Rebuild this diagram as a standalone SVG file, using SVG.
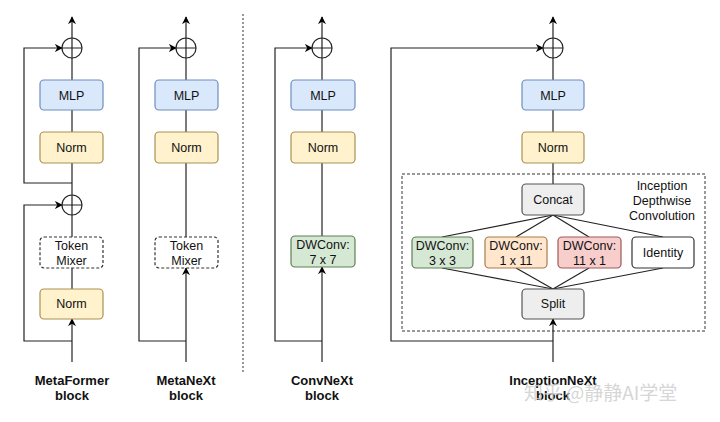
<svg xmlns="http://www.w3.org/2000/svg" width="720" height="422" viewBox="0 0 720 422">
<defs>
<marker id="ah" viewBox="0 0 10 10" refX="9" refY="5" markerWidth="8" markerHeight="8" markerUnits="userSpaceOnUse" orient="auto">
<path d="M0,0 L10,5 L0,10 L3,5 Z" fill="#000"/>
</marker>
<style>
text{font-family:"Liberation Sans",Arial,sans-serif;font-size:12.5px;fill:#111;text-anchor:middle}
.lbl{font-weight:bold;font-size:13px}
.ln{fill:none;stroke:#222;stroke-width:1.2}
.box{stroke-width:1.2}
.mlp{fill:#dae8fc;stroke:#6c8ebf}
.norm{fill:#fff2cc;stroke:#a89152}
.green{fill:#d5e8d4;stroke:#5f7f52}
.orange{fill:#ffe6cc;stroke:#a67c4a}
.red{fill:#f8cecc;stroke:#9b5a58}
.gray{fill:#eeeeee;stroke:#555}
.white{fill:#fff;stroke:#333}
.dash{fill:#fff;stroke:#333;stroke-dasharray:3 2}
.plus{fill:none;stroke:#222;stroke-width:1.2}
.wm{font-family:"Noto Sans CJK SC","Liberation Sans",sans-serif;font-size:19px;fill:#d0d0d0;text-anchor:start;opacity:0.85}
</style>
</defs>
<rect width="720" height="422" fill="#fff"/>

<g id="connectors">
<!-- MetaFormer -->
<line class="ln" x1="72" y1="38" x2="72" y2="17" marker-end="url(#ah)"/>
<line class="ln" x1="72" y1="58" x2="72" y2="80"/>
<line class="ln" x1="72" y1="110" x2="72" y2="132"/>
<line class="ln" x1="72" y1="163" x2="72" y2="195"/>
<polyline class="ln" points="72,183 24,183 24,48 62,48" marker-end="url(#ah)"/>
<line class="ln" x1="72" y1="215" x2="72" y2="237"/>
<line class="ln" x1="72" y1="268" x2="72" y2="289"/>
<line class="ln" x1="72" y1="362" x2="72" y2="319" marker-end="url(#ah)"/>
<polyline class="ln" points="72,341 24,341 24,205 62,205" marker-end="url(#ah)"/>
<!-- MetaNeXt -->
<line class="ln" x1="186" y1="38" x2="186" y2="17" marker-end="url(#ah)"/>
<line class="ln" x1="186" y1="58" x2="186" y2="80"/>
<line class="ln" x1="186" y1="110" x2="186" y2="132"/>
<line class="ln" x1="186" y1="163" x2="186" y2="237"/>
<line class="ln" x1="186" y1="362" x2="186" y2="268" marker-end="url(#ah)"/>
<polyline class="ln" points="186,341 139,341 139,48 176,48" marker-end="url(#ah)"/>
<!-- separator -->
<line x1="243" y1="14" x2="243" y2="372" stroke="#333" stroke-width="1" stroke-dasharray="2 2"/>
<!-- ConvNeXt -->
<line class="ln" x1="322" y1="38" x2="322" y2="17" marker-end="url(#ah)"/>
<line class="ln" x1="322" y1="58" x2="322" y2="80"/>
<line class="ln" x1="322" y1="110" x2="322" y2="132"/>
<line class="ln" x1="322" y1="163" x2="322" y2="236"/>
<line class="ln" x1="322" y1="362" x2="322" y2="267" marker-end="url(#ah)"/>
<polyline class="ln" points="322,341 275,341 275,48 312,48" marker-end="url(#ah)"/>
<!-- InceptionNeXt -->
<line class="ln" x1="553" y1="38" x2="553" y2="17" marker-end="url(#ah)"/>
<line class="ln" x1="553" y1="58" x2="553" y2="80"/>
<line class="ln" x1="553" y1="110" x2="553" y2="132"/>
<line class="ln" x1="553" y1="163" x2="553" y2="184"/>
<line class="ln" x1="553" y1="362" x2="553" y2="319" marker-end="url(#ah)"/>
<polyline class="ln" points="553,341 391,341 391,48 543,48" marker-end="url(#ah)"/>
<line class="ln" x1="553" y1="215" x2="442" y2="237"/>
<line class="ln" x1="553" y1="215" x2="516" y2="237"/>
<line class="ln" x1="553" y1="215" x2="589" y2="237"/>
<line class="ln" x1="553" y1="215" x2="663" y2="237"/>
<line class="ln" x1="442" y1="268" x2="553" y2="289"/>
<line class="ln" x1="516" y1="268" x2="553" y2="289"/>
<line class="ln" x1="589" y1="268" x2="553" y2="289"/>
<line class="ln" x1="663" y1="268" x2="553" y2="289"/>
</g>

<g id="plus-metaformer-1"><circle class="plus" cx="72" cy="48" r="10"/><path class="plus" d="M62,48H82M72,38V58"/></g>
<g id="plus-metaformer-2"><circle class="plus" cx="72" cy="205" r="10"/><path class="plus" d="M62,205H82M72,195V215"/></g>
<g id="plus-metanext"><circle class="plus" cx="186" cy="48" r="10"/><path class="plus" d="M176,48H196M186,38V58"/></g>
<g id="plus-convnext"><circle class="plus" cx="322" cy="48" r="10"/><path class="plus" d="M312,48H332M322,38V58"/></g>
<g id="plus-inceptionnext"><circle class="plus" cx="553" cy="48" r="10"/><path class="plus" d="M543,48H563M553,38V58"/></g>

<g id="mf-mlp"><rect class="box mlp" x="40" y="80" width="63" height="30" rx="4"/><text x="71.5" y="100">MLP</text></g>
<g id="mf-norm1"><rect class="box norm" x="40" y="132" width="63" height="31" rx="4"/><text x="71.5" y="152">Norm</text></g>
<g id="mf-mixer"><rect class="box dash" x="40" y="237" width="63" height="31" rx="4"/><text x="71.5" y="250">Token</text><text x="71.5" y="265">Mixer</text></g>
<g id="mf-norm2"><rect class="box norm" x="40" y="289" width="63" height="30" rx="4"/><text x="71.5" y="308">Norm</text></g>
<g id="mf-label"><text class="lbl" x="72" y="385">MetaFormer</text><text class="lbl" x="72" y="400">block</text></g>

<g id="mn-mlp"><rect class="box mlp" x="155" y="80" width="63" height="30" rx="4"/><text x="186.5" y="100">MLP</text></g>
<g id="mn-norm"><rect class="box norm" x="155" y="132" width="63" height="31" rx="4"/><text x="186.5" y="152">Norm</text></g>
<g id="mn-mixer"><rect class="box dash" x="155" y="237" width="63" height="31" rx="4"/><text x="186.5" y="250">Token</text><text x="186.5" y="265">Mixer</text></g>
<g id="mn-label"><text class="lbl" x="186" y="385">MetaNeXt</text><text class="lbl" x="186" y="400">block</text></g>

<g id="cn-mlp"><rect class="box mlp" x="291" y="80" width="64" height="30" rx="4"/><text x="323" y="100">MLP</text></g>
<g id="cn-norm"><rect class="box norm" x="291" y="132" width="64" height="31" rx="4"/><text x="323" y="152">Norm</text></g>
<g id="cn-dwconv"><rect class="box green" x="291" y="236" width="64" height="31" rx="4"/><text x="323" y="249">DWConv:</text><text x="323" y="264">7 x 7</text></g>
<g id="cn-label"><text class="lbl" x="322" y="385">ConvNeXt</text><text class="lbl" x="322" y="400">block</text></g>

<g id="in-mlp"><rect class="box mlp" x="522" y="80" width="62" height="30" rx="4"/><text x="553" y="100">MLP</text></g>
<g id="in-norm"><rect class="box norm" x="522" y="132" width="62" height="31" rx="4"/><text x="553" y="152">Norm</text></g>
<g id="in-idconv"><rect x="402" y="174" width="303" height="157" fill="none" stroke="#333" stroke-width="1" stroke-dasharray="3 2"/>
<text x="662" y="190">Inception</text><text x="662" y="205">Depthwise</text><text x="662" y="220">Convolution</text></g>
<g id="in-concat"><rect class="box gray" x="522" y="184" width="62" height="31" rx="4"/><text x="553" y="204">Concat</text></g>
<g id="in-dw33"><rect class="box green" x="412" y="237" width="61" height="31" rx="4"/><text x="442.5" y="250">DWConv:</text><text x="442.5" y="265">3 x 3</text></g>
<g id="in-dw111"><rect class="box orange" x="485" y="237" width="62" height="31" rx="4"/><text x="516" y="250">DWConv:</text><text x="516" y="265">1 x 11</text></g>
<g id="in-dw111b"><rect class="box red" x="558" y="237" width="63" height="31" rx="4"/><text x="589.5" y="250">DWConv:</text><text x="589.5" y="265">11 x 1</text></g>
<g id="in-identity"><rect class="box white" x="632" y="237" width="62" height="31" rx="4"/><text x="663" y="257">Identity</text></g>
<g id="in-split"><rect class="box gray" x="522" y="289" width="62" height="30" rx="4"/><text x="553" y="308">Split</text></g>
<g id="in-label"><text class="lbl" x="553" y="385">InceptionNeXt</text><text class="lbl" x="553" y="400">block</text></g>

<text class="wm" x="524" y="400">知乎 @静静AI学堂</text>
</svg>
